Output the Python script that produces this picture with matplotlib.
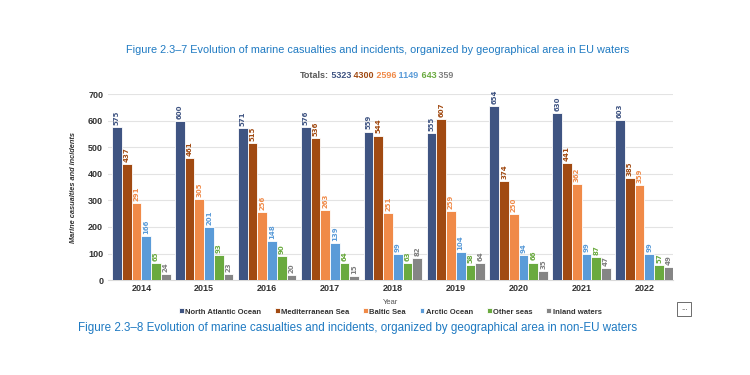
import matplotlib
matplotlib.use('Agg')
import matplotlib.pyplot as plt
import numpy as np

plt.rcParams['font.family'] = ['Liberation Sans', 'DejaVu Sans']

# Data
years = ['2014', '2015', '2016', '2017', '2018', '2019', '2020', '2021', '2022']
series_names = ['North Atlantic Ocean', 'Mediterranean Sea', 'Baltic Sea',
                'Arctic Ocean', 'Other seas', 'Inland waters']
north_atlantic = [575, 600, 571, 576, 559, 555, 654, 630, 603]
mediterranean = [437, 461, 515, 536, 544, 607, 374, 441, 385]
baltic = [291, 305, 256, 263, 251, 259, 250, 362, 359]
arctic = [166, 201, 148, 139, 99, 104, 94, 99, 99]
other_seas = [65, 93, 90, 64, 63, 58, 66, 87, 57]
inland = [24, 23, 20, 15, 82, 64, 35, 47, 49]
totals = [5323, 4300, 2596, 1149, 643, 359]

colors = ['#3f5482', '#a14a12', '#f08a48', '#5a9bd8', '#6aaa3f', '#858585']
label_colors = ['#3f5482', '#a14a12', '#f08a48', '#5a9bd8', '#6aaa3f', '#7f7f7f']
all_series = [north_atlantic, mediterranean, baltic, arctic, other_seas, inland]

fig = plt.figure(figsize=(7.5, 3.75), dpi=100)
fig.patch.set_facecolor('white')
ax = fig.add_axes([0.144, 0.253, 0.753, 0.496])

x = np.arange(len(years))
w = 0.155
for i, (vals, c) in enumerate(zip(all_series, colors)):
    pos = x + (i - 2.5) * w
    ax.bar(pos, vals, width=w, color=c, edgecolor='white', linewidth=0.6,
           label=series_names[i], zorder=3)
    for p, v in zip(pos, vals):
        ax.text(p, v + 8, str(v), rotation=90, ha='center', va='bottom',
                fontsize=5, color=label_colors[i], fontweight='bold',
                family='DejaVu Sans', zorder=4)

ax.set_ylim(0, 700)
ax.set_xlim(-0.53, 8.45)
ax.set_yticks(range(0, 701, 100))
ax.set_xticks(x)
ax.set_xticklabels(years)
ax.tick_params(axis='both', length=0, labelsize=6.5)
ax.tick_params(axis='x', pad=3)
for lab in ax.get_xticklabels() + ax.get_yticklabels():
    lab.set_fontweight('bold')
    lab.set_color('#333333')
ax.grid(axis='y', color='#e3e3e3', linewidth=0.8, zorder=0)
for s in ['top', 'right', 'left']:
    ax.spines[s].set_visible(False)
ax.spines['bottom'].set_color('#d9d9d9')

ax.set_ylabel('Marine casualties and incidents', fontsize=5.3, style='italic',
              fontweight='bold', color='#333333', labelpad=8)
ax.set_xlabel('Year', fontsize=5.5, color='#555555', labelpad=4)

leg = ax.legend(loc='upper center', bbox_to_anchor=(0.5, -0.115), ncol=6,
                frameon=False, fontsize=5.5, handlelength=0.6, handleheight=0.6,
                handletextpad=0.2, columnspacing=1.8)
for t in leg.get_texts():
    t.set_fontweight('bold')
    t.set_color('#333333')

# Titles
fig.text(0.504, 0.867, 'Figure 2.3\u20137 Evolution of marine casualties and incidents, '
         'organized by geographical area in EU waters',
         ha='center', va='center', fontsize=7.8, color='#1f7ac2')
fig.text(0.477, 0.125, 'Figure 2.3\u20138 Evolution of marine casualties and incidents, '
         'organized by geographical area in non-EU waters',
         ha='center', va='center', fontsize=8.4, color='#1f7ac2')

# Totals line built from pieces
prev = fig.text(0.4, 0.8, 'Totals:', ha='left', va='center', fontsize=6.5,
                fontweight='bold', color='#595959')
for val, c in zip(totals, label_colors):
    prev = ax.annotate(' ' + str(val), xy=(1, 0.5), xycoords=prev, ha='left',
                       va='center', fontsize=6.5, fontweight='bold', color=c)

# "..." box
fig.text(0.912, 0.176, '...', ha='center', va='center', fontsize=5.5,
         color='#333333',
         bbox=dict(boxstyle='square,pad=0.5', fc='white', ec='#555555', lw=0.6))

fig.savefig('out.png', dpi=100)
